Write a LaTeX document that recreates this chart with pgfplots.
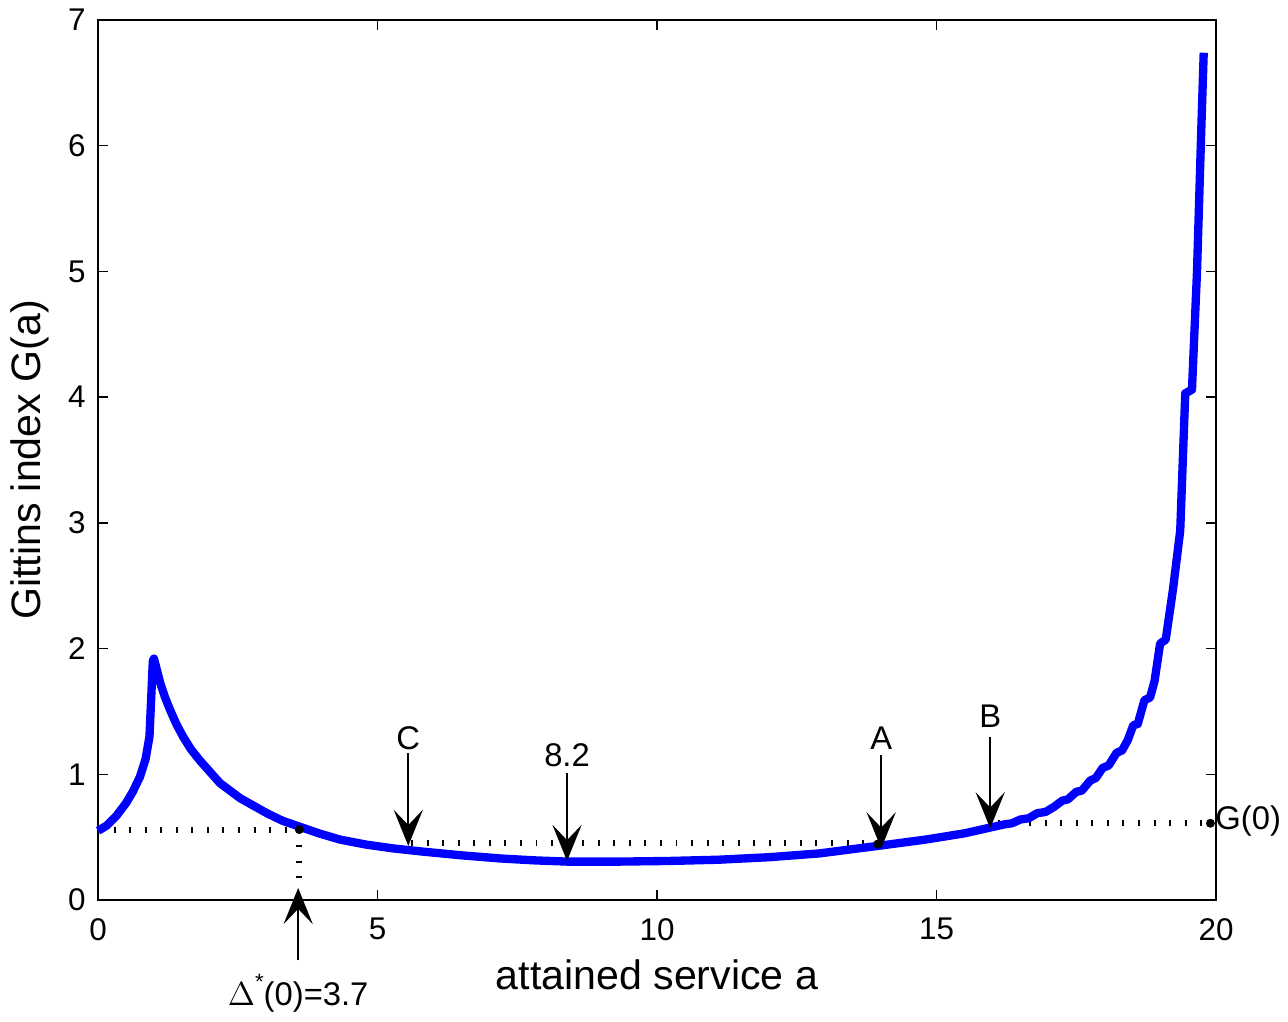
\documentclass[border=0pt]{standalone}
\usepackage{pgfplots}
\pgfplotsset{compat=1.18}
\usepackage{fontspec}
\setmainfont{Liberation Sans}
\usetikzlibrary{arrows.meta}

\begin{document}
\begin{tikzpicture}
\begin{axis}[
    scale only axis,
    width=402.5pt,
    height=316.8pt,
    xmin=0, xmax=20,
    ymin=0, ymax=7,
    xtick={0,5,...,20},
    ytick={0,1,...,7},
    tick align=inside,
    xtick pos=both,
    ytick pos=both,
    major tick length=3.6pt,
    tick style={black, line width=0.5pt},
    axis line style={line width=0.6pt},
    /pgf/number format/assume math mode=true,
    ticklabel style={font=\fontsize{11.3}{13}\selectfont},
    xticklabel style={yshift=-3pt},
    yticklabel style={xshift=-1pt},
    xlabel={attained service a},
    ylabel={Gittins index G(a)},
    every axis x label/.style={at={(axis description cs:0.5,-0.085)},anchor=center,font=\fontsize{14.8}{17}\selectfont},
    every axis y label/.style={at={(axis description cs:-0.061,0.5)},rotate=90,anchor=center,font=\fontsize{14.8}{17}\selectfont},
    clip=false,
]

% invisible frame to keep the reference proportions
\path (axis description cs:-0.0877,-0.1284) rectangle (axis description cs:1.0644,1.0193);

% dotted guide lines
\addplot[black, line width=2.2pt, dash pattern=on 0.7pt off 4.9pt] coordinates {(0,0.56) (3.6,0.56)};
\addplot[black, line width=2.2pt, dash pattern=on 0.7pt off 4.9pt] coordinates {(3.6,0.56) (3.6,0.07)};
\addplot[black, line width=2.2pt, dash pattern=on 0.7pt off 4.9pt] coordinates {(5.6,0.45) (13.95,0.45)};
\addplot[black, line width=2.2pt, dash pattern=on 0.7pt off 4.9pt] coordinates {(16.1,0.61) (19.9,0.61)};

% Gittins index curve
\addplot[blue, line width=3pt, line join=round] coordinates {
    (0,0.55) (0.15,0.59) (0.33,0.67) (0.5,0.77) (0.62,0.86) (0.75,0.98) (0.85,1.12) (0.92,1.30)
    (0.95,1.60) (0.98,1.90) (1.0,1.92)
    (1.11,1.73) (1.2,1.61) (1.29,1.51) (1.4,1.40) (1.52,1.30) (1.66,1.20) (1.82,1.11) (2.0,1.02)
    (2.18,0.93) (2.36,0.87) (2.54,0.81) (2.78,0.75) (3.02,0.69) (3.3,0.63) (3.56,0.59)
    (3.95,0.53) (4.33,0.48) (4.8,0.44) (5.28,0.41) (5.8,0.385) (6.5,0.355) (7.2,0.33)
    (7.8,0.315) (8.4,0.305) (9.3,0.305) (10.2,0.31) (11.1,0.32) (12,0.34) (12.9,0.37)
    (13.95,0.43) (14.8,0.48) (15.5,0.53) (16,0.58)
    (16.2,0.60) (16.35,0.61) (16.5,0.64) (16.65,0.65) (16.8,0.69) (16.95,0.70) (17.1,0.74)
    (17.25,0.79) (17.35,0.80) (17.5,0.86) (17.6,0.87) (17.75,0.95) (17.85,0.97) (17.97,1.05)
    (18.08,1.07) (18.22,1.17) (18.32,1.19) (18.42,1.27) (18.52,1.39) (18.6,1.40) (18.72,1.59)
    (18.82,1.61) (18.9,1.74) (19.0,2.04) (19.1,2.07) (19.23,2.47) (19.36,2.94) (19.45,4.03)
    (19.57,4.06) (19.66,5.0) (19.74,6.18) (19.78,6.74)
};

% dots
\addplot[only marks, mark=*, mark size=1.4pt, black] coordinates {(3.6,0.56) (13.95,0.445) (19.9,0.61)};

% arrows
\addplot[black, line width=0.75pt, -{Stealth[length=13pt,width=10.5pt,inset=5.5pt]}] coordinates {(5.55,1.17) (5.55,0.43)};
\addplot[black, line width=0.75pt, -{Stealth[length=13pt,width=10.5pt,inset=5.5pt]}] coordinates {(8.39,1.01) (8.39,0.31)};
\addplot[black, line width=0.75pt, -{Stealth[length=13pt,width=10.5pt,inset=5.5pt]}] coordinates {(14.01,1.15) (14.01,0.41)};
\addplot[black, line width=0.75pt, -{Stealth[length=13pt,width=10.5pt,inset=5.5pt]}] coordinates {(15.96,1.30) (15.96,0.57)};
\addplot[black, line width=0.75pt, -{Stealth[length=13pt,width=10.5pt,inset=5.5pt]}] coordinates {(3.58,-0.48) (3.58,0.095)};

% labels
\node[font=\fontsize{11.8}{13}\selectfont] at (axis cs:5.55,1.29) {C};
\node[font=\fontsize{11.8}{13}\selectfont] at (axis cs:8.39,1.15) {8.2};
\node[font=\fontsize{11.8}{13}\selectfont] at (axis cs:14.01,1.29) {A};
\node[font=\fontsize{11.8}{13}\selectfont] at (axis cs:15.96,1.46) {B};
\node[font=\fontsize{11.8}{13}\selectfont, anchor=west, inner sep=1pt] at (axis cs:19.93,0.63) {G(0)};
\node[font=\fontsize{11.8}{13}\selectfont] at (axis cs:3.58,-0.74) {$\Delta$\raisebox{0.9ex}{\fontsize{8}{9}\selectfont *}(0)=3.7};

\end{axis}
\end{tikzpicture}
\end{document}
